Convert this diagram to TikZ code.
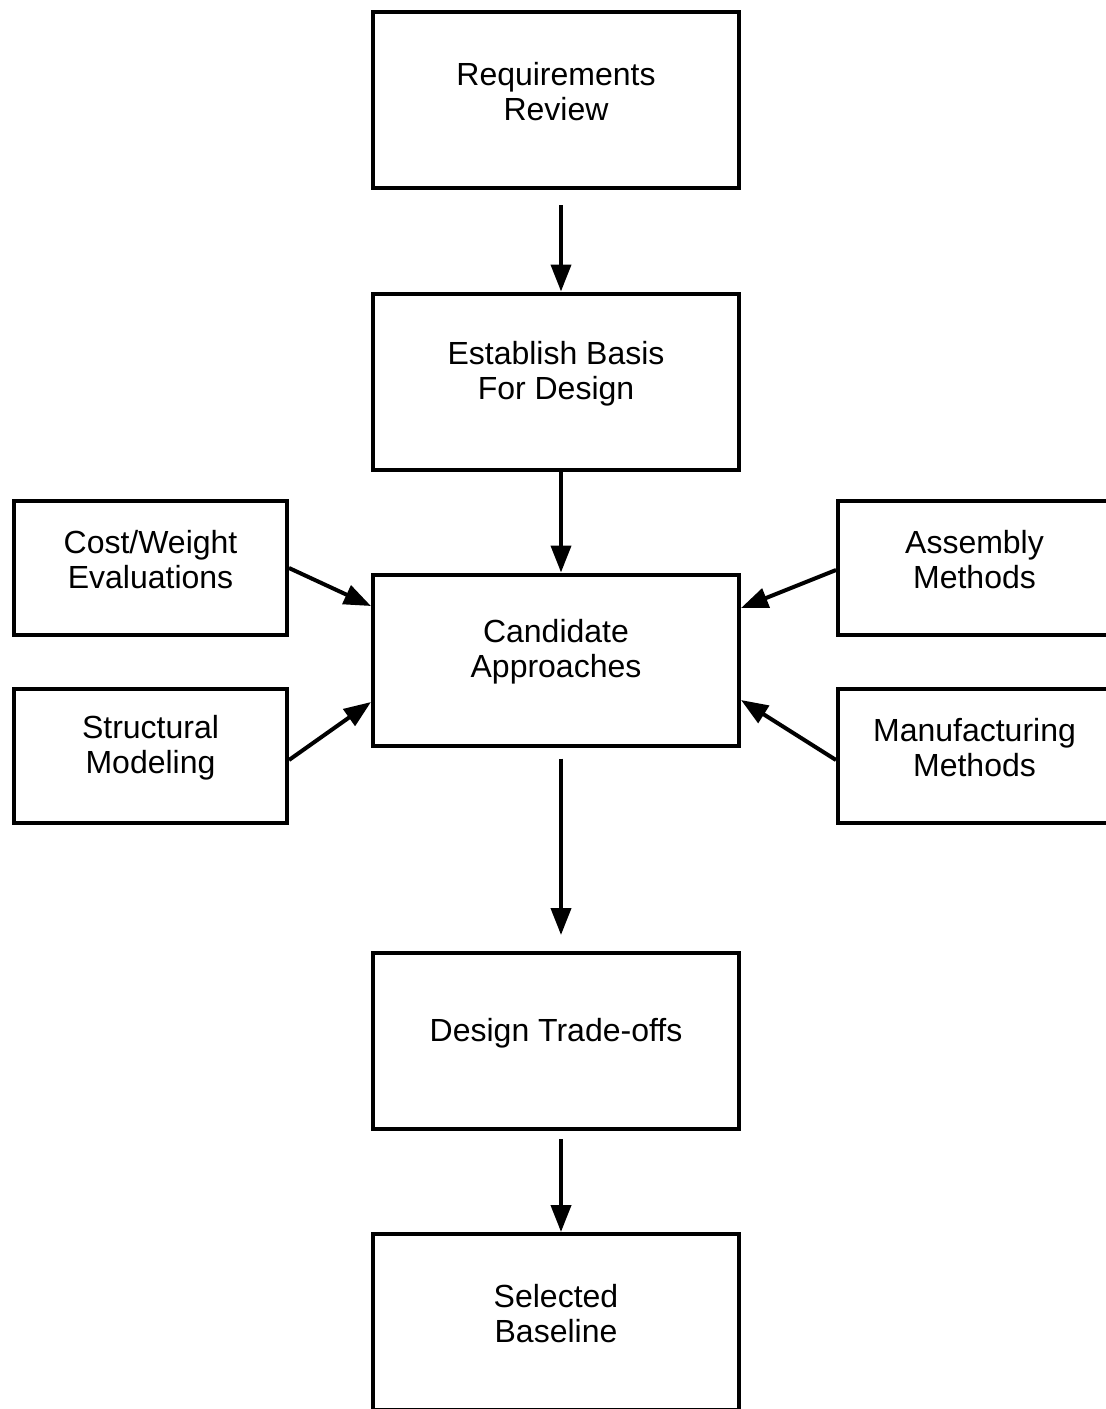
\documentclass[tikz,border=0pt]{standalone}
\usepackage{fontspec}
\setmainfont{Liberation Sans}
\usetikzlibrary{
  arrows.meta,
  positioning,
}

\begin{document}
\begin{tikzpicture}[x=0.5pt, y=-0.5pt,
  stage/.style={draw, line width=2pt, minimum width=183pt, minimum height=88pt, inner sep=0pt},
  side/.style={draw, line width=2pt, minimum width=136.5pt, minimum height=67pt, inner sep=0pt},
  caption/.style={font=\fontsize{16}{17.5}\selectfont, align=center, yshift=4pt},
  flow/.style={line width=2pt, -{Triangle[length=13.5pt, width=10pt]}}]
\useasboundingbox (0,0) rectangle (1106,1409);
\clip (0,0) rectangle (1106,1409);

% main column
\node[stage, label={[caption]center:{Requirements\\Review}}] (req) at (556,100) {};
\node[stage, label={[caption]center:{Establish Basis\\For Design}}] (basis) at (556,381.5) {};
\node[stage, minimum height=85.5pt, label={[caption]center:{Candidate\\Approaches}}] (cand) at (556,660) {};
\node[stage, label={[caption]center:{Design Trade-offs}}] (trade) at (556,1041) {};
\node[stage, label={[caption]center:{Selected\\Baseline}}] (base) at (556,1322) {};

% inputs on both sides
\node[side, label={[caption]center:{Cost/Weight\\Evaluations}}] (cost) at (150.5,568) {};
\node[side, label={[caption]center:{Structural\\Modeling}}] (model) at (150.5,756) {};
\node[side, label={[caption]center:{Assembly\\Methods}}] (assy) at (974.5,568) {};
\node[side, label={[caption]center:{Manufacturing\\Methods}}] (manuf) at (974.5,756) {};

\draw[flow, shorten <=7.5pt] ([xshift=2.5pt]req.south) -- ([xshift=2.5pt]basis.north);
\draw[flow] ([xshift=2.5pt]basis.south) -- ([xshift=2.5pt]cand.north);
\draw[flow, shorten <=5.5pt, shorten >=8pt] ([xshift=2.5pt]cand.south) -- ([xshift=2.5pt]trade.north);
\draw[flow, shorten <=4pt] ([xshift=2.5pt]trade.south) -- ([xshift=2.5pt]base.north);

\draw[flow] (cost.east) -- ([yshift=27pt]cand.west);
\draw[flow] ([yshift=-2pt]model.east) -- ([yshift=-21pt]cand.west);
\draw[flow] ([yshift=-1pt]assy.west) -- ([yshift=26pt]cand.east);
\draw[flow] ([yshift=-2pt]manuf.west) -- ([yshift=-20pt]cand.east);
\end{tikzpicture}
\end{document}
